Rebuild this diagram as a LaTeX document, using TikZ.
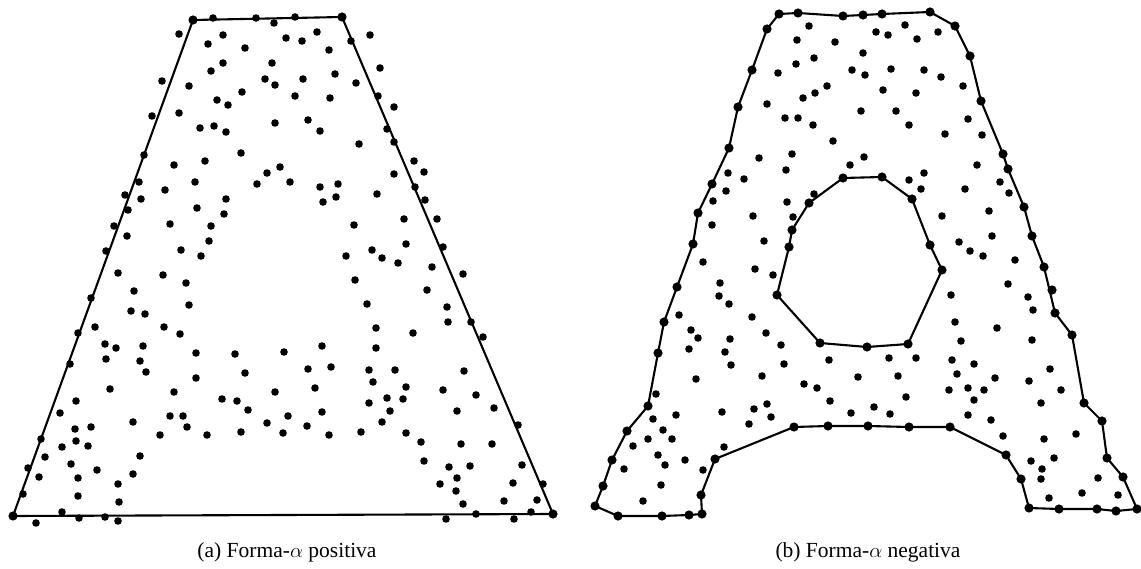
\documentclass[tikz,border=0pt]{standalone}
\usepackage{fontspec}
\setmainfont{Liberation Serif}
\begin{document}
\begin{tikzpicture}[x=1pt,y=-1pt,
  hull/.style={line width=2.1pt,line join=round},
  captext/.style={font=\fontsize{21.5}{24}\selectfont,inner sep=0pt}]
\useasboundingbox[fill=white] (0,0) rectangle (1141,569);
% ---------- (a) positive alpha-shape ----------
\draw[hull] (193,20) -- (342,17) -- (553,514) -- (13,516) -- cycle;
\foreach \px/\py in {193/20,342/17,553/514,13/516}
  \fill (\px,\py) circle[radius=4.6pt];
\foreach \px/\py in {
213/18,256/18,274/23,286/38,179/34,223/35,208/44,245/48,272/63,223/63,211/71,265/79,275/85,162/81,189/86,242/92,217/100,228/105,152/116,179/113,275/123,200/128,214/126,226/132,241/153,144/155,174/165,205/161,280/167,267/173,257/184,290/182,139/182,195/182,125/195,141/199,165/190,226/199,128/210,197/208,224/214,114/226,170/224,211/226,127/236,209/241,106/251,181/250,201/256,
295/17,302/41,317/32,329/50,351/41,370/35,380/68,303/79,335/74,356/83,295/96,330/98,378/96,394/107,308/120,320/131,387/129,394/142,359/144,414/161,424/172,394/174,320/187,338/184,323/202,336/197,377/194,415/187,425/200,404/219,437/219,354/225,406/244,443/247,372/250,382/258,346/256,398/263,432/267,463/274,
118/273,163/275,186/283,134/291,91/298,189/305,131/311,145/314,95/327,164/327,180/334,78/333,105/344,116/348,143/346,106/359,196/353,235/354,284/352,70/364,140/361,146/372,196/378,110/389,174/392,245/373,76/401,222/399,237/401,275/392,248/410,60/413,133/422,170/416,183/416,187/427,288/416,267/423,75/429,91/427,160/435,207/435,241/432,283/433,41/439,76/441,88/446,62/447,45/457,140/456,28/468,71/464,97/470,39/477,78/478,133/474,118/484,23/494,78/496,119/502,36/523,62/512,79/518,105/517,118/521,
355/280,427/290,367/304,447/307,448/322,471/322,376/328,413/333,483/337,322/346,376/348,308/369,331/367,369/370,395/370,464/371,373/382,315/388,406/387,443/390,476/395,369/403,387/398,403/399,494/408,390/411,457/411,322/412,382/422,307/426,518/425,329/435,361/432,406/433,421/442,461/444,492/444,424/461,449/467,470/466,522/465,457/478,440/484,513/483,543/484,456/491,504/501,537/500,463/504,446/519,476/514,514/519,531/512}
  \fill (\px,\py) circle[radius=3.8pt];
% ---------- (b) negative alpha-shape ----------
\draw[hull] (779,14) -- (798,13) -- (843,16) -- (863,15) -- (882,14) -- (930,12) -- (955,26) -- (970,56) -- (981,101) -- (1003,154) -- (1008,169) -- (1024,207) -- (1032,236) -- (1044,267) -- (1055,313) -- (1072,335) -- (1084,403) -- (1102,421) -- (1107,458) -- (1123,477) -- (1137,509) -- (1116,511) -- (1097,509) -- (1059,509) -- (1029,508) -- (1021,479) -- (1006,455) -- (950,427) -- (909,427) -- (868,426) -- (828,426) -- (794,427) -- (715,459) -- (701,495) -- (702,514) -- (689,515) -- (662,516) -- (618,516) -- (595,506) -- (603,486) -- (612,460) -- (627,431) -- (648,406) -- (658,353) -- (664,322) -- (677,287) -- (693,244) -- (698,213) -- (712,184) -- (729,148) -- (738,107) -- (752,70) -- (767,29) -- cycle;
\draw[hull] (843,178) -- (882,177) -- (912,199) -- (930,245) -- (942,270) -- (908,344) -- (867,347) -- (820,343) -- (777,295) -- (789,247) -- (792,230) -- (809,203) -- cycle;
\foreach \px/\py in {779/14,798/13,843/16,863/15,882/14,930/12,955/26,970/56,981/101,1003/154,1008/169,1024/207,1032/236,1044/267,1052/290,1055/313,1072/335,1084/403,1102/421,1107/458,1123/477,1137/509,1116/511,1097/509,1059/509,1029/508,1021/479,1006/455,950/427,909/427,868/426,828/426,794/427,715/459,701/495,702/514,689/515,662/516,618/516,595/506,603/486,612/460,627/431,648/406,658/353,664/322,677/287,693/244,698/213,712/184,729/148,738/107,752/70,767/29,
843/178,882/177,912/199,930/245,942/270,908/344,867/347,820/343,777/295,789/247,792/230,809/203}
  \fill (\px,\py) circle[radius=4.6pt];
\foreach \px/\py in {
809/26,797/40,835/42,863/53,796/64,814/58,778/73,852/70,865/75,827/86,815/93,803/98,767/104,785/118,798/118,813/125,861/111,833/141,759/158,792/154,850/165,864/157,786/170,728/173,744/179,726/191,713/201,787/202,814/194,753/216,793/217,712/225,764/241,703/262,755/269,773/275,720/283,
876/32,888/35,905/25,917/39,938/32,891/69,924/70,941/77,963/86,883/90,916/93,896/111,909/125,968/119,945/134,982/135,977/165,909/180,924/173,921/189,1000/182,1009/193,965/189,989/211,942/216,992/236,959/242,970/251,983/256,1015/260,1008/284,
719/296,729/304,752/317,679/315,691/330,698/338,766/333,730/339,689/349,725/352,781/345,731/365,784/364,829/360,696/379,762/376,858/377,804/384,817/388,656/394,830/401,676/415,722/412,754/409,767/404,771/417,749/424,851/413,653/419,663/430,672/439,648/439,633/446,724/447,658/455,665/465,685/460,624/469,703/470,661/485,643/501,
951/295,1028/297,1033/310,955/322,997/328,961/341,1032/340,889/358,916/358,952/360,974/364,957/374,995/378,898/376,1050/369,1029/381,949/390,968/388,984/390,1061/390,974/400,906/397,1041/403,874/407,890/414,968/415,991/420,1003/436,1044/439,1076/434,1031/461,1054/458,1042/469,1041/479,1098/478,1082/493,1118/495,1049/498}
  \fill (\px,\py) circle[radius=3.8pt];
% ---------- captions ----------
\node[captext] (capa) at (287,552) {(a) Forma-$\alpha$ positiva};
\node[captext] (capb) at (868,552) {(b) Forma-$\alpha$ negativa};
\end{tikzpicture}
\end{document}
